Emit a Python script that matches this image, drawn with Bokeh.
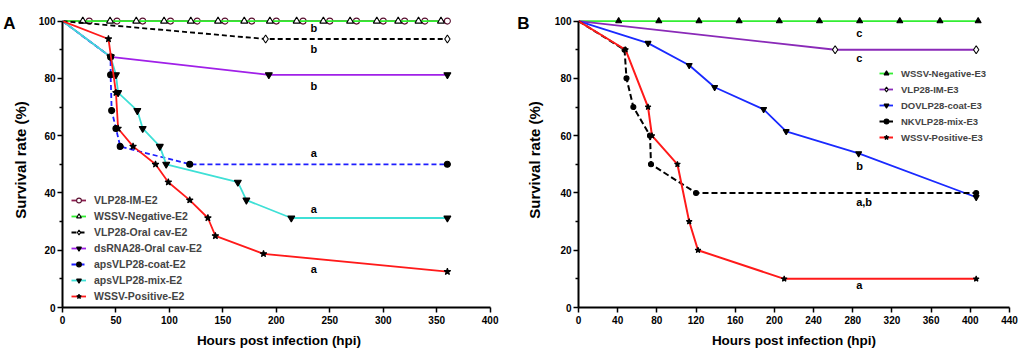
from bokeh.plotting import figure
from bokeh.models import Range1d, FixedTicker, Legend, LegendItem, LinearAxis
from bokeh.layouts import row
from bokeh.core.properties import value
from bokeh.embed import file_html
from bokeh.resources import INLINE

FONT = "Liberation Sans"

# ---------------- Panel A data ----------------
imA_x = [0, 25, 51, 75, 101, 126, 152, 177, 200, 225, 250, 275, 300, 320, 339, 360]
imA_y = [100] * 16
negA_x = [0, 19, 44.5, 69, 95, 120, 145.5, 170, 194, 219, 244, 269, 294, 314, 333, 354]
negA_y = [100] * 16
oralA_x = [0, 190, 360]
oralA_y = [100, 93.75, 93.75]
dsA_x = [0, 45, 193, 360]
dsA_y = [100, 87.5, 81.25, 81.25]
coatA_x = [0, 45, 45, 46, 50, 54, 119, 360]
coatA_y = [100, 87.5, 81.25, 68.75, 62.5, 56.25, 50, 50]
mixA_x = [0, 45, 50, 52, 70, 75, 91, 97, 164, 172, 214, 360]
mixA_y = [100, 87.5, 81.25, 75, 68.75, 62.5, 56.25, 50, 43.75, 37.5, 31.25, 31.25]
posA_x = [0, 43, 50, 52, 66, 87, 99, 119, 136, 143, 188, 360]
posA_y = [100, 93.75, 75, 62.5, 56.25, 50, 43.75, 37.5, 31.25, 25, 18.75, 12.5]
lettersA_x = [235, 235, 235, 235, 235, 235]
lettersA_y = [97.7, 90.1, 77.2, 53.9, 34.5, 13.4]
lettersA = ["b", "b", "b", "a", "a", "a"]
xticksA = [0, 50, 100, 150, 200, 250, 300, 350, 400]

# ---------------- Panel B data ----------------
negB_x = [0, 41, 82, 123, 164, 205, 246, 287, 328, 369, 408]
negB_y = [100] * 11
imB_x = [0, 262, 406]
imB_y = [100, 90, 90]
coatB_x = [0, 71, 113, 139, 189, 212, 286, 406]
coatB_y = [100, 92.3, 84.6, 76.9, 69.2, 61.5, 53.8, 38.5]
mixB_x = [0, 47, 49, 56, 73, 74, 120, 406]
mixB_y = [100, 90, 80, 70, 60, 50, 40, 40]
posB_x = [0, 48, 71, 75, 101, 113, 122, 210, 406]
posB_y = [100, 90, 70, 60, 50, 30, 20, 10, 10]
lettersB_x = [283.5, 283.5, 283.5, 283.5, 283.5]
lettersB_y = [96, 87, 49.3, 36.7, 7.8]
lettersB = ["c", "c", "b", "a,b", "a"]
xticksB = [0, 40, 80, 120, 160, 200, 240, 280, 320, 360, 400, 440]

yticks = [0, 20, 40, 60, 80, 100]
yminor = [10, 30, 50, 70, 90]


def make_fig(width, left, right, xend, xticks, xbound, label_standoff):
    p = figure(width=width, height=350, output_backend="svg", toolbar_location=None,
               x_range=Range1d(0, xend), y_range=Range1d(0, 103),
               min_border_left=left, min_border_right=right,
               min_border_top=12, min_border_bottom=43)
    p.grid.visible = False
    p.outline_line_color = None
    p.background_fill_color = "white"
    p.xaxis.ticker = FixedTicker(ticks=xticks, minor_ticks=[])
    p.yaxis.ticker = FixedTicker(ticks=yticks, minor_ticks=yminor)
    p.xaxis.bounds = xbound
    p.yaxis.bounds = (0, 100)
    for ax in (p.xaxis[0], p.yaxis[0]):
        ax.axis_line_width = 2
        ax.axis_line_color = "black"
        ax.major_tick_line_width = 1.5
        ax.minor_tick_line_width = 1.5
        ax.major_tick_out = 5
        ax.major_tick_in = 0
        ax.minor_tick_out = 3
        ax.minor_tick_in = 0
        ax.major_label_text_font = FONT
        ax.major_label_text_font_style = "bold"
        ax.major_label_text_font_size = "10px"
        ax.major_label_text_color = "black"
        ax.axis_label_text_font = FONT
        ax.axis_label_text_font_style = "bold"
        ax.axis_label_text_color = "black"
    p.xaxis.axis_label = "Hours post infection (hpi)"
    p.xaxis.axis_label_text_font_size = "13.5px"
    p.xaxis.major_label_standoff = 3
    p.xaxis.axis_label_standoff = 6
    p.yaxis.axis_label = "Survival rate (%)"
    p.yaxis.axis_label_text_font_size = "15px"
    p.yaxis.major_label_standoff = 2
    p.yaxis.axis_label_standoff = label_standoff
    return p


def panel_letter(p, letter, standoff):
    # an extra, line-less axis whose only tick label is the panel letter
    ax = LinearAxis(ticker=FixedTicker(ticks=[99], minor_ticks=[]),
                    major_label_overrides={99: letter},
                    axis_line_color=None, major_tick_line_color=None,
                    minor_tick_line_color=None, major_tick_out=0, major_tick_in=0,
                    major_label_standoff=standoff,
                    major_label_text_font=FONT, major_label_text_font_style="bold",
                    major_label_text_font_size="17px", major_label_text_color="black")
    p.add_layout(ax, "left")


def series(p, xs, ys, color, marker, size, dash="solid", fill=None, mline=None, lw=1.8):
    ln = p.line(xs, ys, line_color=color, line_width=lw, line_dash=dash)
    sc = p.scatter(xs[1:], ys[1:], marker=marker, size=size,
                   fill_color=fill if fill is not None else "black",
                   line_color=mline if mline is not None else "black",
                   line_width=1.1)
    return [ln, sc]


# ---------------- Figure A ----------------
pA = make_fig(510, 61, 15, 405, xticksA, (0, 400), 7)
rA = []
rA.append(("VLP28-IM-E2", series(pA, imA_x, imA_y, "#8b1c4f", "circle", 6, fill="white", mline="#5a1030")))
rA.append(("WSSV-Negative-E2", series(pA, negA_x, negA_y, "#2ef02e", "triangle", 7, fill="white")))
rA.append(("VLP28-Oral cav-E2", series(pA, oralA_x, oralA_y, "black", "diamond", 8, dash="5 3", fill="white")))
rA.append(("dsRNA28-Oral cav-E2", series(pA, dsA_x, dsA_y, "#a020e8", "inverted_triangle", 7)))
rA.append(("apsVLP28-coat-E2", series(pA, coatA_x, coatA_y, "#1e1eff", "circle", 6, dash="5 3")))
rA.append(("apsVLP28-mix-E2", series(pA, mixA_x, mixA_y, "#3fe0d6", "inverted_triangle", 7)))
rA.append(("WSSV-Positive-E2", series(pA, posA_x, posA_y, "#ff1a1a", "star", 7)))
pA.text(x=lettersA_x, y=lettersA_y, text=lettersA, text_font=value(FONT), text_font_style="bold",
        text_font_size="11px", text_align="center", text_baseline="middle", text_color="black")
legA = Legend(items=[LegendItem(label=n, renderers=r) for n, r in rA], location=(9, 5),
              label_text_font=FONT, label_text_font_style="bold", label_text_font_size="10.5px",
              glyph_width=15, glyph_height=12, label_height=12, label_standoff=8, spacing=4,
              padding=0, margin=0, border_line_color=None, background_fill_alpha=0)
pA.add_layout(legA)
panel_letter(pA, "A", -7)

# ---------------- Figure B ----------------
pB = make_fig(512, 68, 13, 440, xticksB, (0, 440), 9)
rB = []
rB.append(("WSSV-Negative-E3", series(pB, negB_x, negB_y, "#33ee33", "triangle", 6)))
rB.append(("VLP28-IM-E3", series(pB, imB_x, imB_y, "#8a2ab8", "diamond", 8, fill="white")))
rB.append(("DOVLP28-coat-E3", series(pB, coatB_x, coatB_y, "#1a2aff", "inverted_triangle", 6)))
rB.append(("NKVLP28-mix-E3", series(pB, mixB_x, mixB_y, "black", "circle", 5, dash="6 3", lw=2)))
rB.append(("WSSV-Positive-E3", series(pB, posB_x, posB_y, "#ff1a1a", "star", 6, lw=2)))
pB.text(x=lettersB_x, y=lettersB_y, text=lettersB, text_font=value(FONT), text_font_style="bold",
        text_font_size="11px", text_align="left", text_baseline="middle", text_color="black")
legB = Legend(items=[LegendItem(label=n, renderers=r) for n, r in rB], location=(301, 164),
              label_text_font=FONT, label_text_font_style="bold", label_text_font_size="9.5px",
              glyph_width=14, glyph_height=12, label_height=12, label_standoff=8, spacing=4,
              padding=0, margin=0, border_line_color=None, background_fill_alpha=0)
pB.add_layout(legB)
panel_letter(pB, "B", -7)

layout = row(pA, pB)
open("out.html", "w").write(file_html(layout, INLINE))
